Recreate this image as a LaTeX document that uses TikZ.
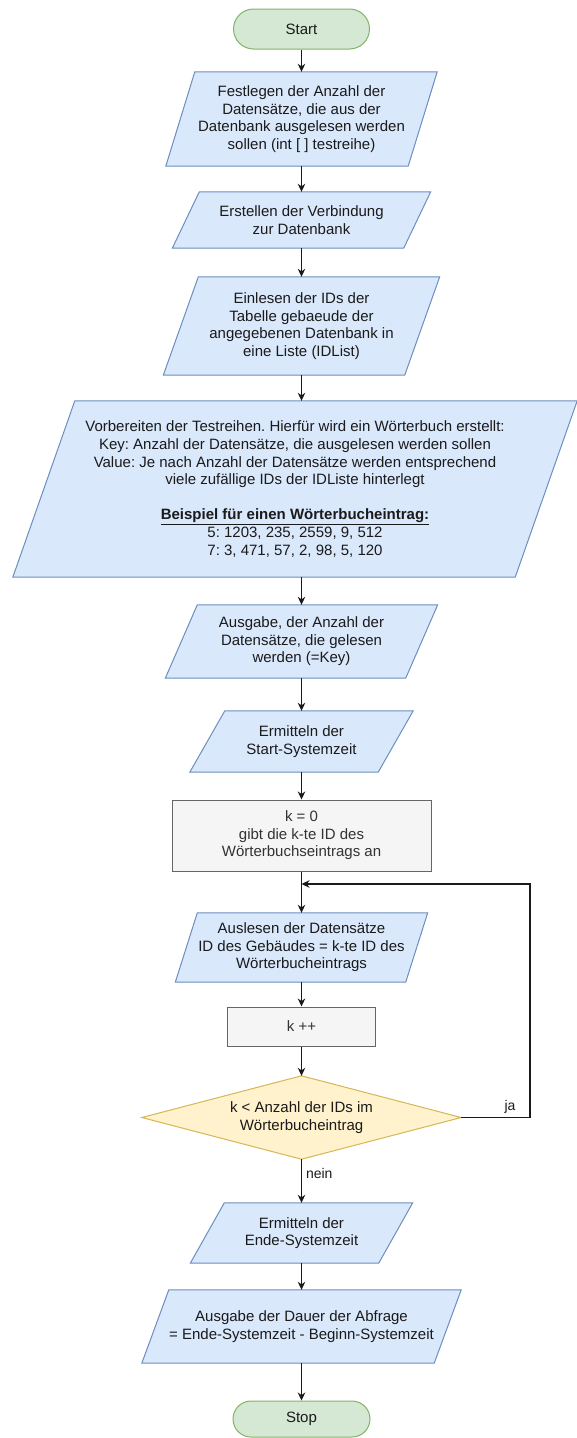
\documentclass[tikz,border=0pt]{standalone}
\usepackage{fontspec}
\setmainfont{Liberation Sans}
\usetikzlibrary{arrows.meta,backgrounds}
\frenchspacing
\definecolor{bluefill}{HTML}{DAE8FC}
\definecolor{bluedraw}{HTML}{6C8EBF}
\definecolor{greenfill}{HTML}{D5E8D4}
\definecolor{greendraw}{HTML}{82B366}
\definecolor{grayfill}{HTML}{F5F5F5}
\definecolor{graydraw}{HTML}{666666}
\definecolor{yellowfill}{HTML}{FFF2CC}
\definecolor{yellowdraw}{HTML}{D6B656}
\definecolor{txt}{HTML}{1A1A1A}
\definecolor{txtgray}{HTML}{333333}
\definecolor{linecol}{HTML}{1A1A1A}
\newcommand\drawpara[2]{%
  \path[fill=bluefill,draw=bluedraw,line width=1pt]
    ([xshift=#2]#1.north west) -- (#1.north east) -- ([xshift=-#2]#1.south east) -- (#1.south west) -- cycle;}
\tikzset{
  every node/.style={font=\fontsize{15}{17.6}\selectfont, text=txt},
  lbl/.style={align=center, inner sep=0pt},
  term/.style={lbl, draw=greendraw, fill=greenfill, line width=1pt},
  procbox/.style={lbl, draw=graydraw, fill=grayfill, line width=1pt, text=txtgray},
  arr/.style={draw=linecol, line width=1.1pt, -{Stealth[length=8pt,width=7.5pt,inset=2.5pt]}},
  edgelbl/.style={inner sep=0pt, font=\fontsize{14}{16}\selectfont}
}
\begin{document}
\begin{tikzpicture}[x=1pt,y=-1pt]
\useasboundingbox (0,0) rectangle (577,1438);

\node[term, rounded corners=20pt, minimum width=136pt, minimum height=40pt] (start) at (301.5,29) {Start};

\node[lbl, minimum width=271pt, minimum height=94pt] (p1) at (301.5,119)
  {Festlegen der Anzahl der\\Datensätze, die aus der\\Datenbank ausgelesen werden\\sollen (int [ ] testreihe)};

\node[lbl, minimum width=258pt, minimum height=56pt] (p2) at (301.5,220)
  {Erstellen der Verbindung\\zur Datenbank};

\node[lbl, minimum width=276pt, minimum height=98pt] (p3) at (301.5,326)
  {Einlesen der IDs der\\Tabelle gebaeude der\\angegebenen Datenbank in\\eine Liste (IDList)};

\node[lbl, minimum width=564pt, minimum height=176pt] (p4) at (295,489)
  {Vorbereiten der Testreihen. Hierfür wird ein Wörterbuch erstellt:\\
   Key: Anzahl der Datensätze, die ausgelesen werden sollen\\
   Value: Je nach Anzahl der Datensätze werden entsprechend\\
   viele zufällige IDs der IDListe hinterlegt\\[17.6pt]
   \underline{\textbf{Beispiel für einen Wörterbucheintrag:}}\\
   5: 1203, 235, 2559, 9, 512\\
   7: 3, 471, 57, 2, 98, 5, 120};

\node[lbl, minimum width=272pt, minimum height=73pt] (p5) at (301.5,641.5)
  {Ausgabe, der Anzahl der\\Datensätze, die gelesen\\werden (=Key)};

\node[lbl, minimum width=223pt, minimum height=61pt] (p6) at (301.5,741.5)
  {Ermitteln der\\Start-Systemzeit};

\node[procbox, minimum width=259pt, minimum height=71pt] (r0) at (301.5,835.5)
  {k = 0\\gibt die k-te ID des\\Wörterbuchseintrags an};

\coordinate (loopin) at (301.5,884);
\coordinate (loopright) at (530,884);

\node[lbl, minimum width=252pt, minimum height=69pt] (p7) at (301.5,947.5)
  {Auslesen der Datensätze\\ID des Gebäudes = k-te ID des\\Wörterbucheintrags};

\node[procbox, minimum width=148pt, minimum height=39pt] (rk) at (301.5,1026.5) {k ++};

\node[lbl, minimum width=319pt, minimum height=83pt] (dia) at (301.5,1117.5)
  {k < Anzahl der IDs im\\Wörterbucheintrag};

\node[lbl, minimum width=222pt, minimum height=60pt] (p8) at (301.5,1233)
  {Ermitteln der\\Ende-Systemzeit};

\node[lbl, minimum width=319pt, minimum height=73pt] (p9) at (301.5,1326.5)
  {Ausgabe der Dauer der Abfrage\\= Ende-Systemzeit - Beginn-Systemzeit};

\node[term, rounded corners=18pt, minimum width=137pt, minimum height=36pt] (stop) at (301.5,1419) {Stop};

\begin{scope}[on background layer]
  \drawpara{p1}{29}
  \drawpara{p2}{27}
  \drawpara{p3}{35}
  \drawpara{p4}{62}
  \drawpara{p5}{32}
  \drawpara{p6}{35}
  \drawpara{p7}{22}
  \drawpara{p8}{34}
  \drawpara{p9}{27}
  \path[fill=yellowfill, draw=yellowdraw, line width=1pt]
    (dia.north) -- (dia.east) -- (dia.south) -- (dia.west) -- cycle;
\end{scope}

\draw[arr] (start) -- (p1);
\draw[arr] (p1) -- (p2);
\draw[arr] (p2) -- (p3);
\draw[arr] (p3.south) -- (p3.south |- p4.north);
\draw[arr] (p4.south -| p5.north) -- (p5.north);
\draw[arr] (p5) -- (p6);
\draw[arr] (p6) -- (r0);
\draw[arr] (r0) -- (p7);
\draw[arr] (p7) -- (rk);
\draw[arr] (rk) -- (dia);
\draw[arr] (dia.east) -- (dia.east -| loopright) -- (loopright) -- (loopin);
\draw[arr] (dia.south) -- (p8.north) node[edgelbl, pos=0.33, anchor=west, xshift=4pt] {nein};
\draw[arr] (p8) -- (p9);
\draw[arr] (p9) -- (stop);

\node[edgelbl, anchor=south] (ja) at (510,1114) {ja};
\end{tikzpicture}
\end{document}
